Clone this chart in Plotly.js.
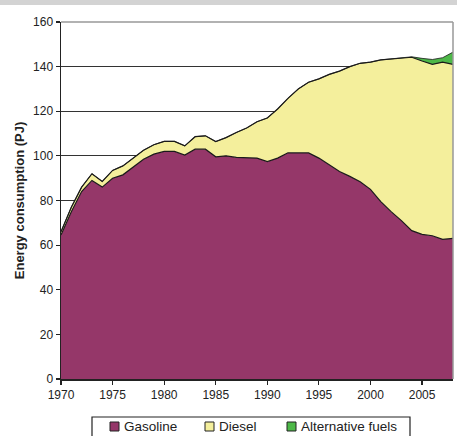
<!DOCTYPE html>
<html>
<head>
<meta charset="utf-8">
<script src="https://cdn.plot.ly/plotly-3.0.1.min.js"></script>
<style>
html,body{margin:0;padding:0;background:#fff;}
#wrap{position:relative;width:457px;height:436px;overflow:hidden;}
#band{position:absolute;left:0;top:0;width:457px;height:5px;background:#d3d3d3;z-index:5;}
#chart{position:absolute;left:0;top:0;width:457px;height:436px;}
</style>
</head>
<body>
<div id="wrap"><div id="chart"></div><div id="band"></div></div>
<script>
const years = [];
for (let y = 1970; y <= 2008; y++) years.push(y);

const gasoline = [64.5, 75, 84, 89, 86, 90, 91.5, 95, 98.5, 100.8,
  102, 102, 100.4, 103, 103, 99.6, 100, 99.3, 99, 99,
  97.4, 99, 101.4, 101.2, 101.3, 99, 96, 93, 90.8, 88.4,
  85, 79.5, 75, 71, 66.5, 64.8, 64.2, 62.6, 63];

const diesel = [1.5, 2, 2, 3, 2.5, 3.5, 4, 4, 4, 4.2,
  4.5, 4.5, 4.1, 5.6, 6, 6.8, 8.2, 11.2, 13.5, 16.3,
  19.6, 22, 24.4, 28.8, 31.7, 35.5, 40.5, 45, 49.2, 53.1,
  57, 63.5, 68.5, 73, 77.7, 77.7, 76.8, 79.4, 78];

const altFuels = [0, 0, 0, 0, 0, 0, 0, 0, 0, 0,
  0, 0, 0, 0, 0, 0, 0, 0, 0, 0,
  0, 0, 0, 0, 0, 0, 0, 0, 0, 0,
  0, 0, 0, 0, 0.2, 1.2, 2.2, 2, 5.5];

const seriesNames = ['Gasoline', 'Diesel', 'Alternative fuels'];
const seriesColors = ['#953769', '#F4EF9C', '#4DB848'];

const xTicks = [1970, 1975, 1980, 1985, 1990, 1995, 2000, 2005];
const yTicks = [0, 20, 40, 60, 80, 100, 120, 140, 160];

const W = 457, H = 436;
const M = {l: 61, r: 4, t: 22, b: 57};
const PW = W - M.l - M.r, PH = H - M.t - M.b;
const px2x = p => (p - M.l) / PW;
const px2y = p => (H - M.b - p) / PH;

const lineStyle = {color: '#1a1a1a', width: 1.2, shape: 'linear'};
const seriesData = [gasoline, diesel, altFuels];

const traces = seriesData.map((vals, i) => ({
  x: years, y: vals, name: seriesNames[i], type: 'scatter', mode: 'lines',
  stackgroup: 'one', fillcolor: seriesColors[i],
  line: i === 2 ? {color: '#1a1a1a', width: 0.8} : lineStyle,
  showlegend: false
}));

// hand-laid legend (box, swatches, labels) below the plot
const legendSwatchPx = [110, 205, 287];
const legendTop = 417, legendMid = 426.5, sw = 9;
const shapes = [
  {type: 'line', xref: 'paper', yref: 'paper', x0: 0, x1: 1, y0: 1, y1: 1,
   line: {color: '#999', width: 1.5}, layer: 'above'},
  {type: 'line', xref: 'paper', yref: 'paper', x0: 1, x1: 1, y0: 0, y1: 1,
   line: {color: '#999', width: 1.5}, layer: 'above'},
  {type: 'rect', xref: 'paper', yref: 'paper',
   x0: px2x(92), x1: px2x(410), y0: px2y(legendTop), y1: px2y(445),
   line: {color: '#222', width: 1.2}, fillcolor: 'rgba(0,0,0,0)'}
];
const annotations = [];
seriesNames.forEach((n, i) => {
  const sx = legendSwatchPx[i];
  shapes.push({type: 'rect', xref: 'paper', yref: 'paper',
    x0: px2x(sx), x1: px2x(sx + sw), y0: px2y(legendMid - sw / 2), y1: px2y(legendMid + sw / 2),
    line: {color: '#222', width: 1}, fillcolor: seriesColors[i]});
  annotations.push({xref: 'paper', yref: 'paper', x: px2x(sx + sw + 3), y: px2y(legendMid),
    xanchor: 'left', yanchor: 'middle', showarrow: false, text: n,
    font: {size: 13.5, color: '#222'}});
});

const layout = {
  width: W, height: H,
  margin: Object.assign({}, M, {autoexpand: false}),
  paper_bgcolor: '#ffffff', plot_bgcolor: '#ffffff',
  font: {family: 'Liberation Sans, Arial, sans-serif', size: 12, color: '#222'},
  showlegend: false,
  hovermode: false,
  xaxis: {
    range: [1970, 2008], tickvals: xTicks, ticktext: xTicks.map(String),
    showgrid: false, zeroline: false,
    showline: true, linecolor: '#222', linewidth: 1.5,
    ticks: 'outside', ticklen: 4, tickcolor: '#222', tickwidth: 1.2,
    tickfont: {size: 12, color: '#222'}
  },
  yaxis: {
    range: [0, 160], tickvals: yTicks,
    showgrid: true, gridcolor: '#333', gridwidth: 1,
    zeroline: false,
    showline: true, linecolor: '#222', linewidth: 1.5,
    ticks: 'outside', ticklen: 4, tickcolor: '#222', tickwidth: 1.2,
    tickfont: {size: 12, color: '#222'},
    title: {text: '<b>Energy consumption (PJ)</b>', font: {size: 13, color: '#222'}, standoff: 5}
  },
  shapes: shapes,
  annotations: annotations
};

Plotly.newPlot('chart', traces, layout, {displayModeBar: false, staticPlot: true});
</script>
</body>
</html>
